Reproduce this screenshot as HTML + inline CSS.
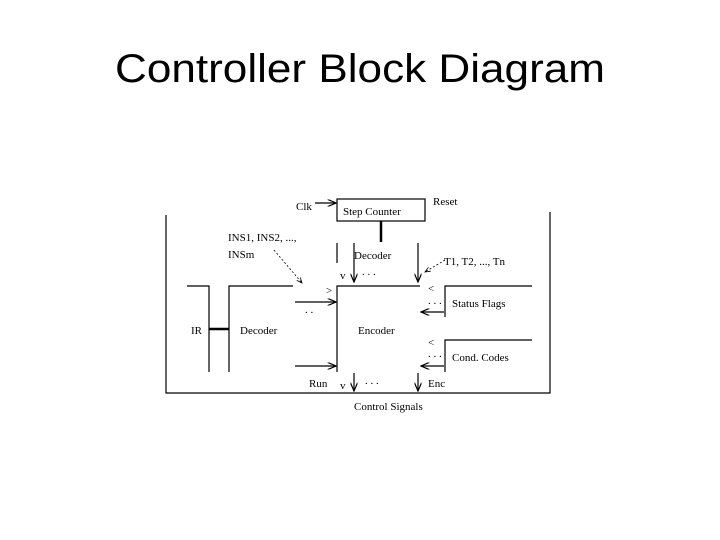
<!DOCTYPE html>
<html><head><meta charset="utf-8"><style>
html,body{margin:0;padding:0;background:#fff;width:720px;height:540px;overflow:hidden}
svg{display:block}
text{font-family:"Liberation Serif",serif;font-size:11px;fill:#000}
</style></head><body>
<svg width="720" height="540" viewBox="0 0 720 540" xmlns="http://www.w3.org/2000/svg">
<defs><marker id="a" markerWidth="8" markerHeight="6" refX="7" refY="3" orient="auto"><path d="M0,0 L7,3 L0,6" fill="none" stroke="#000" stroke-width="1"/></marker></defs>
<text x="360" y="82" text-anchor="middle" style="font-family:'Liberation Sans',sans-serif;font-size:40px" textLength="490" lengthAdjust="spacingAndGlyphs">Controller Block Diagram</text>
<g stroke="#000" stroke-width="1.2" fill="none">
<!-- outer -->
<polyline points="166,215 166,393 550,393 550,212"/>
<!-- step counter -->
<rect x="337" y="199" width="88" height="22"/>
<line x1="381" y1="221" x2="381" y2="242" stroke-width="2.5"/>
<line x1="337" y1="243" x2="337" y2="263"/>
<!-- encoder -->
<polyline points="337,372 337,286 420,286"/>
<!-- IR / decoder -->
<polyline points="187,286 209,286 209,372"/>
<polyline points="229,372 229,286 293,286"/>
<line x1="209" y1="329" x2="229" y2="329" stroke-width="2.5"/>
<!-- status/cond -->
<polyline points="445,317 445,286 532,286"/>
<polyline points="445,372 445,340 532,340"/>
<!-- arrows -->
<line x1="295" y1="302" x2="336" y2="302" marker-end="url(#a)"/>
<line x1="295" y1="366" x2="336" y2="366" marker-end="url(#a)"/>
<line x1="444" y1="312" x2="421" y2="312" marker-end="url(#a)"/>
<line x1="444" y1="366" x2="421" y2="366" marker-end="url(#a)"/>
<line x1="354" y1="243" x2="354" y2="282" marker-end="url(#a)"/>
<line x1="418" y1="243" x2="418" y2="282" marker-end="url(#a)"/>
<line x1="354" y1="373" x2="354" y2="391" marker-end="url(#a)"/>
<line x1="418" y1="373" x2="418" y2="391" marker-end="url(#a)"/>
<line x1="315" y1="203" x2="336" y2="203" marker-end="url(#a)"/>
<line x1="274" y1="250" x2="302" y2="283" stroke-dasharray="2,2" marker-end="url(#a)" stroke-width="0.8"/>
<line x1="445" y1="260" x2="425" y2="272" stroke-dasharray="2,2" marker-end="url(#a)" stroke-width="0.8"/>
</g>
<text x="296" y="210">Clk</text>
<text x="343" y="215">Step Counter</text>
<text x="433" y="205">Reset</text>
<text x="228" y="241">INS1, INS2, ...,</text>
<text x="228" y="258">INSm</text>
<text x="354" y="259">Decoder</text>
<text x="444" y="265">T1, T2, ..., Tn</text>
<text x="340" y="279">v</text>
<text x="362" y="275">. . .</text>
<text x="326" y="294">&gt;</text>
<text x="428" y="292">&lt;</text>
<text x="428" y="304">. . .</text>
<text x="452" y="307">Status Flags</text>
<text x="305" y="313">. .</text>
<text x="191" y="334">IR</text>
<text x="240" y="334">Decoder</text>
<text x="358" y="334">Encoder</text>
<text x="428" y="346">&lt;</text>
<text x="428" y="357">. . .</text>
<text x="452" y="361">Cond. Codes</text>
<text x="309" y="387">Run</text>
<text x="340" y="389">v</text>
<text x="365" y="384">. . .</text>
<text x="428" y="387">Enc</text>
<text x="354" y="410">Control Signals</text>
</svg>
</body></html>
